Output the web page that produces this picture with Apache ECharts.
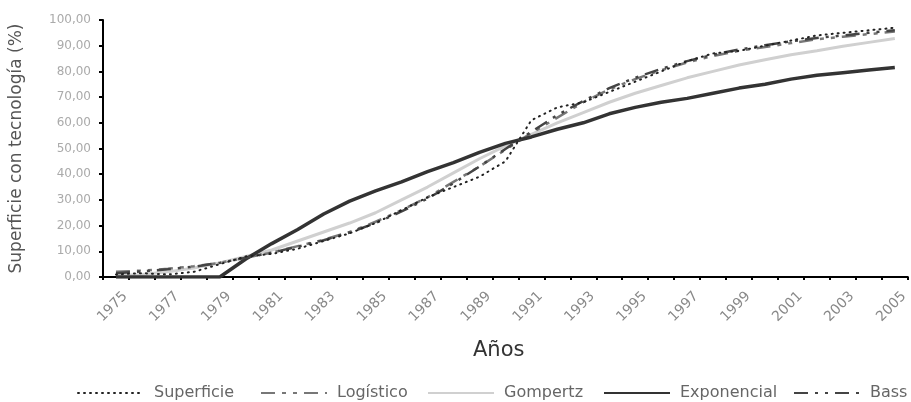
<!DOCTYPE html>
<html>
<head>
<meta charset="utf-8">
<script src="https://cdn.jsdelivr.net/npm/echarts@6/dist/echarts.min.js"></script>
<style>html,body{margin:0;padding:0;background:#fff}#c{width:911px;height:402px}</style>
</head>
<body>
<div id="c"></div>
<script>
const years = ['1975','1976','1977','1978','1979','1980','1981','1982','1983','1984','1985','1986','1987','1988','1989','1990','1991','1992','1993','1994','1995','1996','1997','1998','1999','2000','2001','2002','2003','2004','2005'];
const superficie = [1,1.5,1,2,5,8,9,11,14,17,21,26,31,35,39,45,61,66,68,72,76,80,84,87,88,90,92,94,95,96,97];
const logistico = [2,2.5,3.2,4.2,5.5,7.5,9.5,12,14.5,17.5,21.5,26,31,37,43,49.5,56,62,68,73,77,80.5,83.5,86,88,89.5,91,92.5,93.5,94.5,95.5];
const gompertz = [0.5,1,2,3.5,5.5,8,10.5,14,17.5,21,25,30,35,40.5,46,51,55.5,60,64,68,71.5,74.5,77.5,80,82.5,84.5,86.5,88,89.8,91.3,92.8];
const exponencial = [0,0,0,0,0,7,13,18.5,24.5,29.5,33.5,37,41,44.5,48.5,52,54.5,57.5,60,63.5,66,68,69.5,71.5,73.5,75,77,78.5,79.5,80.5,81.5];
const bass = [1.5,2.2,3,4,5.5,7.5,9.5,11.8,14.3,17.3,21,25.5,30.5,36.5,43,49.8,56.5,63,68.5,73.5,77.5,81,84,86.5,88.5,90.2,91.7,93,94,95,96];
const seriesNames = ['Superficie','Logístico','Gompertz','Exponencial','Bass'];

const FONT = 'DejaVu Sans';
const chart = echarts.init(document.getElementById('c'), null, {renderer:'canvas'});

function leg(name, left){
  return {
    data:[name], left:left, top:380, itemWidth:66, itemHeight:14, itemGap:0,
    itemStyle:{color:'transparent', borderWidth:0, opacity:0},
    textStyle:{fontFamily:FONT, fontSize:16, color:'#666', padding:[0,0,0,5]},
    selectedMode:false
  };
}

chart.setOption({
  animation:false,
  backgroundColor:'#fff',
  grid:{left:103, right:-2, top:20, bottom:125, containLabel:false},
  legend:[leg(seriesNames[0],72), leg(seriesNames[1],255), leg(seriesNames[2],422), leg(seriesNames[3],598), leg(seriesNames[4],788)],
  graphic:[{type:'text', left:473, top:340, style:{text:'Años', fontFamily:FONT, fontSize:21, fill:'#333'}}],
  xAxis:{
    type:'category', data:years, boundaryGap:true,
    axisLine:{lineStyle:{color:'#000', width:2}},
    axisTick:{show:true, interval:0, length:3, lineStyle:{color:'#000', width:2}},
    axisLabel:{interval:1, rotate:45, fontFamily:FONT, fontSize:14, color:'#888', margin:8,
      verticalAlign:'top', padding:[6,0,0,0]}
  },
  yAxis:{
    type:'value', min:0, max:100, interval:10,
    name:'Superficie con tecnología (%)', nameLocation:'middle', nameRotate:90, nameGap:78,
    nameTextStyle:{fontFamily:FONT, fontSize:17, color:'#555'},
    axisLine:{show:true, lineStyle:{color:'#000', width:2}},
    axisTick:{show:true, length:4, lineStyle:{color:'#000', width:2}},
    splitLine:{show:false},
    axisLabel:{fontFamily:FONT, fontSize:12, color:'#aaa', margin:12,
      formatter:v=>v.toFixed(2).replace('.',',')}
  },
  series:[
    {name:'Superficie', type:'line', data:superficie, symbol:'none', z:5,
      lineStyle:{color:'#222', width:2, type:[1,5], cap:'round'}, itemStyle:{color:'#222'}},
    {name:'Logístico', type:'line', data:logistico, symbol:'none', z:3,
      lineStyle:{color:'#777', width:2.5, type:[14,7,4,7,4,7]}, itemStyle:{color:'#777'}},
    {name:'Gompertz', type:'line', data:gompertz, symbol:'none', z:2,
      lineStyle:{color:'#d0d0d0', width:3}, itemStyle:{color:'#d0d0d0'}},
    {name:'Exponencial', type:'line', data:exponencial, symbol:'none', z:4,
      lineStyle:{color:'#333', width:3.5}, itemStyle:{color:'#333'}},
    {name:'Bass', type:'line', data:bass, symbol:'none', z:4,
      lineStyle:{color:'#444', width:2.5, type:[14,7,3,7,3,7]}, itemStyle:{color:'#444'}}
  ]
});
</script>
</body>
</html>
